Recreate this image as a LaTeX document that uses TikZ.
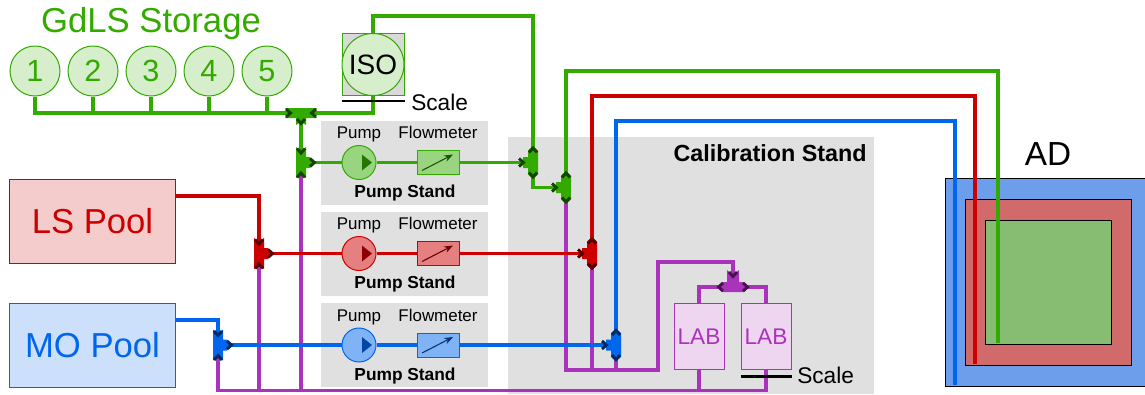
\documentclass[tikz,border=0pt]{standalone}
\usepackage{fontspec}
\setmainfont{Liberation Sans}
\usetikzlibrary{arrows.meta,positioning}
\definecolor{gdc}{HTML}{33AA00}
\definecolor{lsc}{HTML}{CC0000}
\definecolor{moc}{HTML}{0066EE}
\definecolor{labc}{HTML}{AA33BB}
\definecolor{panel}{HTML}{E0E0E0}
\definecolor{adG}{HTML}{87BD72}
\definecolor{adR}{HTML}{D16B6B}
\definecolor{adM}{HTML}{6D9EEB}
\tikzset{pipe/.style={line width=2.7pt,draw=#1},
  chevron/.style={line width=2.2pt,miter limit=8},
  scalebar/.style={line width=1.9pt,draw=black},
  stand/.style={fill=panel,minimum width=125.25pt,minimum height=63pt,inner sep=0pt},
  pump/.style={circle,draw=#1,fill=#1!50,line width=.75pt,minimum size=25.5pt,inner sep=0pt},
  flow/.style={rectangle,draw=#1,fill=#1!50,line width=.75pt,minimum width=31.5pt,minimum height=18pt,inner sep=0pt},
  pool/.style={rectangle,draw=#1,fill=#1!20,text=#1,line width=.75pt,minimum width=125pt,minimum height=62.5pt,
    font=\fontsize{26}{30}\selectfont},
  tank/.style={circle,draw=gdc,fill=gdc!20,text=gdc,line width=.75pt,minimum size=37.5pt,inner sep=0pt,
    font=\fontsize{23}{26}\selectfont},
  lab/.style={rectangle,draw=labc,fill=labc!20,text=labc,line width=.75pt,minimum width=37.5pt,minimum height=50pt,
    inner sep=0pt,font=\fontsize{17}{20}\selectfont},
  small/.style={font=\fontsize{12.7}{15}\selectfont,anchor=base,inner sep=0pt},
  smallb/.style={font=\fontsize{13}{15}\selectfont\bfseries,anchor=base,inner sep=0pt},
  label/.style={font=\fontsize{17}{20}\selectfont,anchor=base west,inner sep=0pt},
  ad/.style={rectangle,draw=black,fill=#1,line width=.75pt,inner sep=0pt}}
\newcommand{\chev}[3]{%
\draw[chevron,#3!40!black,shift={(#1)},rotate=#2] (-3,-4)--(1.5,0)--(-3,4);
}
% gate with ports going in
\newcommand{\gatein}[2]{%
\begin{scope}[shift={(#1)}]
\fill[#2] (-5,-15.5)--(0,-11)--(5,-15.5)--(5,-5.5)--(9,-5.5)--(12,0)--(9,5.5)--(5,5.5)--(5,15.5)--(0,11)--(-5,15.5)--cycle;
\chev{0,-11}{-90}{#2}
\chev{0,12}{90}{#2}
\chev{12,0}{0}{#2}
\end{scope}
}
% gate with ports going out
\newcommand{\gateout}[2]{%
\begin{scope}[shift={(#1)}]
\fill[#2] (-5,-12)--(0,-16.5)--(5,-12)--(5,12)--(0,16.5)--(-5,12)--(-5,5.5)--(-10,5.5)--(-10,-5.5)--(-5,-5.5)--cycle;
\chev{0,-13}{90}{#2}
\chev{0,13}{-90}{#2}
\chev{-11,0}{0}{#2}
\end{scope}
}
\newcommand{\pumprow}[3]{%
\node[stand] (stand#1) at (404.5,#2) {};
\node[pump=#3] (pump#1) at (359,#2) {};
\node[flow=#3] (flow#1) at (438,#2) {};
\node[small] (pumptxt#1) at (359,#2-24) {Pump};
\node[small] (flowtxt#1) at (438,#2-24) {Flowmeter};
\node[smallb] (standtxt#1) at (405,#2+35) {Pump Stand};
\draw[pipe=#3] (vin#1) -- (pump#1) -- (flow#1) -- (vout#1);
\fill[#3!70!black] ([shift={(3,-8)}]pump#1.center)--([shift={(13,0)}]pump#1.center)--([shift={(3,8)}]pump#1.center)--cycle;
\draw[-{Stealth},#3!50!black,line width=.8pt] ([shift={(-16,8)}]flow#1.center) -- ([shift={(15,-8)}]flow#1.center);
}

\begin{document}
\begin{tikzpicture}[x=.75pt,y=-.75pt]
\useasboundingbox (0,0) rectangle (1145,394);
\fill[panel] (508,137) rectangle (874,394);
\node[font=\fontsize{17.5}{20}\selectfont\bfseries,anchor=base east,inner sep=0pt] (caltxt) at (867,161) {Calibration Stand};
% gates and ends of pipes
\coordinate (vtop) at (301,113);
\coordinate (vinG) at (301,162.5);
\coordinate (voutG) at (533,162.5);
\coordinate (vretG) at (566,187.5);
\coordinate (vinR) at (259,253.5);
\coordinate (voutR) at (592,253.5);
\coordinate (vinM) at (218,345);
\coordinate (voutM) at (616,345);
\coordinate (vlab) at (733,287);
\coordinate (railL) at (218,390.5);
\coordinate (railC) at (658,370);
\coordinate (endG) at (998,343);
\coordinate (endR) at (975,364);
\coordinate (endM) at (955,385);
% AD
\node[ad=adM,minimum width=151.5pt,minimum height=156pt] (adouter) at (1046,282) {};
\node[ad=adR,minimum width=125pt,minimum height=124.5pt] (admid) at (1048.5,282) {};
\node[ad=adG,minimum width=94pt,minimum height=93pt] (adinner) at (1048.5,282) {};
\node[font=\fontsize{25}{28}\selectfont,anchor=base,inner sep=0pt] (adtxt) at (1048,165) {AD};
% LAB line
\node[lab] (lab1) at (699,336.5) {LAB};
\node[lab] (lab2) at (766,336.5) {LAB};
\draw[pipe=labc] (lab2) |- (railL) -- (vinM);
\draw[pipe=labc] (lab1) -- (lab1 |- railL);
\draw[pipe=labc] (vinG) -- (vinG |- railL);
\draw[pipe=labc] (vinR) -- (vinR |- railL);
\draw[pipe=labc] (vretG) |- (railC) -- (658,262) -| (vlab);
\draw[pipe=labc] (voutR) -- (voutR |- railC);
\draw[pipe=labc] (voutM) -- (voutM |- railC);
\draw[pipe=labc] (lab1) |- (vlab) -| (lab2);
% pump stands
\pumprow{G}{162.5}{gdc}
\pumprow{R}{253.5}{lsc}
\pumprow{M}{345}{moc}
% storage
\node[font=\fontsize{26}{30}\selectfont,text=gdc,anchor=base,inner sep=0pt] (gdtxt) at (151,32) {GdLS Storage};
\foreach \i/\x in {1/35,2/93,3/151,4/209,5/267}{
 \node[tank] (t\i) at (\x,71) {\i};
 \draw[pipe=gdc] (t\i) |- (vtop);
}
\node[rectangle,draw=gdc,fill=black!15,line width=.75pt,minimum size=46.5pt,inner sep=0pt] (isobox) at (373,64.5) {};
\node[tank,text=black,minimum size=46.5pt,font=\fontsize{21}{24}\selectfont] (iso) at (373,64.5) {ISO};
\draw[pipe=gdc] (iso) |- (vtop);
\draw[pipe=gdc] (isobox.north) -- (373,16) -| (voutG);
\draw[pipe=gdc] (vtop) -- (vinG);
\draw[pipe=gdc] (voutG) |- (vretG);
\draw[pipe=gdc] (vretG) -- (566,71) -| (endG);
\draw[pipe=lsc] (voutR) -- (592,96) -| (endR);
\draw[pipe=moc] (voutM) -- (616,121) -| (endM);
% pools
\node[pool=lsc] (ls) at (92.5,221.5) {LS Pool};
\node[pool=moc] (mo) at (92.5,345.5) {MO Pool};
\draw[pipe=lsc] ([shift={(0,-25.5)}]ls.east) -| (vinR);
\draw[pipe=moc] ([shift={(0,-25.5)}]mo.east) -| (vinM);
% scales
\draw[scalebar] ([shift={(0,5)}]isobox.south west) -- ([shift={(0,5)}]isobox.south east);
\node[label] (scale1) at (411,110) {Scale};
\draw[scalebar] ([shift={(0,6)}]lab2.south west) -- ([shift={(0,6)}]lab2.south east);
\node[label] (scale2) at (797,383) {Scale};
% gates
\begin{scope}[shift={(vtop)}]
\fill[gdc] (-16,-5)--(16,-5)--(12,0)--(16,5)--(5,5)--(5,12)--(0,9)--(-5,12)--(-5,5)--(-16,5)--(-12,0)--cycle;
\chev{-12,0}{0}{gdc}
\chev{12,0}{180}{gdc}
\chev{0,9}{-90}{gdc}
\end{scope}
\gatein{vinG}{gdc}
\gatein{vinR}{lsc}
\gatein{vinM}{moc}
\gateout{voutG}{gdc}
\gateout{vretG}{gdc}
\gateout{voutR}{lsc}
\gateout{voutM}{moc}
\begin{scope}[shift={(vlab)}]
\fill[labc] (-6,-17)--(0,-12)--(6,-17)--(6,-5)--(11,-5)--(16,0)--(11,5)--(-11,5)--(-16,0)--(-11,-5)--(-6,-5)--cycle;
\chev{0,-12}{-90}{labc}
\chev{13,0}{0}{labc}
\chev{-13,0}{180}{labc}
\end{scope}
\end{tikzpicture}
\end{document}
